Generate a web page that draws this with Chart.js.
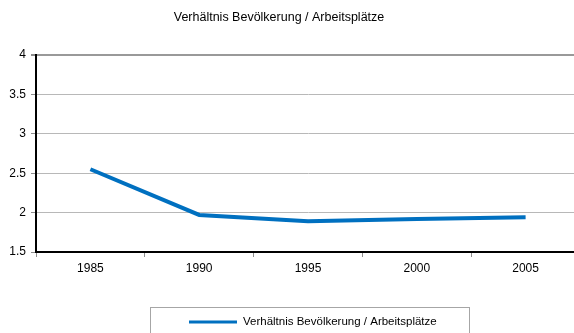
<!DOCTYPE html>
<html>
<head>
<meta charset="utf-8">
<script src="https://cdn.jsdelivr.net/npm/chart.js@4/dist/chart.umd.min.js"></script>
<style>
  html, body { margin: 0; padding: 0; background: #fff; overflow: hidden; }
  #wrap { width: 574px; height: 333px; overflow: hidden; position: relative; }
  canvas { display: block; }
</style>
</head>
<body>
<div id="wrap"><canvas id="chart" width="600" height="333"></canvas></div>
<script>
const years = ['1985', '1990', '1995', '2000', '2005'];
const ratio = [2.55, 1.97, 1.89, 1.92, 1.94];
const seriesName = 'Verhältnis Bevölkerung / Arbeitsplätze';
const chartTitle = 'Verhältnis Bevölkerung / Arbeitsplätze';

const lineBlue = '#0070c0';
const fontFamily = 'Arial, "Liberation Sans", sans-serif';

// title on top and a boxed legend below the axis
const decorations = {
    id: 'decorations',
    afterDraw(chart) {
        const ctx = chart.ctx;
        ctx.save();
        ctx.fillStyle = '#000';
        ctx.font = '12.5px ' + fontFamily;
        ctx.textAlign = 'center';
        ctx.textBaseline = 'middle';
        ctx.fillText(chartTitle, 279, 18);

        ctx.strokeStyle = '#a6a6a6';
        ctx.lineWidth = 1;
        ctx.strokeRect(150.5, 307.5, 319, 40);

        ctx.strokeStyle = lineBlue;
        ctx.lineWidth = 3;
        ctx.beginPath();
        ctx.moveTo(189, 322);
        ctx.lineTo(237, 322);
        ctx.stroke();

        ctx.font = '11.5px ' + fontFamily;
        ctx.textAlign = 'left';
        ctx.fillText(seriesName, 243, 322);
        ctx.restore();
    }
};

new Chart(document.getElementById('chart'), {
    type: 'line',
    data: {
        labels: years,
        datasets: [{
            label: seriesName,
            data: ratio,
            borderColor: lineBlue,
            backgroundColor: lineBlue,
            borderWidth: 4,
            pointRadius: 0,
            tension: 0,
            fill: false
        }]
    },
    options: {
        responsive: false,
        animation: false,
        layout: { padding: { top: 55, right: 20, left: 0, bottom: 0 } },
        plugins: {
            legend: { display: false },
            title: { display: false },
            tooltip: { enabled: false }
        },
        scales: {
            x: {
                offset: true,
                afterFit(scale) { scale.height = 81; },
                grid: {
                    offset: true,
                    drawOnChartArea: false,
                    drawTicks: true,
                    tickLength: 5,
                    tickColor: '#8c8c8c'
                },
                border: { color: '#000', width: 2 },
                ticks: {
                    color: '#000',
                    padding: 4,
                    maxRotation: 0,
                    font: { family: fontFamily, size: 12 }
                }
            },
            y: {
                min: 1.5,
                max: 4,
                afterFit(scale) { scale.width = 36; },
                grid: {
                    color: ctx => ctx.tick && ctx.tick.value === 4 ? '#999999' : '#b8b8b8',
                    lineWidth: ctx => ctx.tick && ctx.tick.value === 4 ? 2 : 1,
                    tickLength: 5,
                    tickColor: '#8c8c8c'
                },
                border: { color: '#000', width: 2 },
                ticks: {
                    stepSize: 0.5,
                    color: '#000',
                    padding: 5,
                    font: { family: fontFamily, size: 12 },
                    callback: v => String(v)
                }
            }
        }
    },
    plugins: [decorations]
});
</script>
</body>
</html>
